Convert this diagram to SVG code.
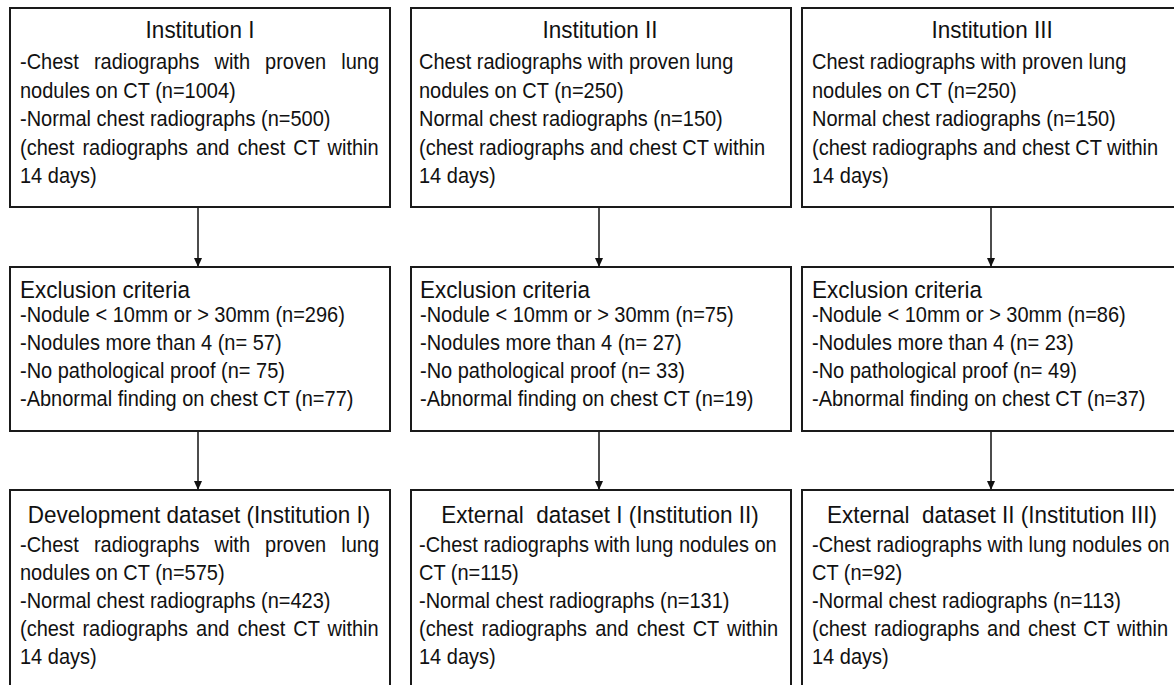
<svg xmlns="http://www.w3.org/2000/svg" width="1174" height="685" viewBox="0 0 1174 685">
<defs>
<marker id="ah" markerUnits="userSpaceOnUse" markerWidth="10" markerHeight="10" refX="9" refY="4" orient="auto">
<path d="M0,0 L9,4 L0,8 Z" fill="#111"/>
</marker>
<style>
.box{fill:#fff;stroke:#1a1a1a;stroke-width:2}
.t{font-family:"Liberation Sans",Arial,sans-serif;font-size:22.5px;fill:#111;text-anchor:middle}
.h{font-family:"Liberation Sans",Arial,sans-serif;font-size:22.5px;fill:#111}
.b{font-family:"Liberation Sans",Arial,sans-serif;font-size:20px;fill:#111}
.c{stroke:#111;stroke-width:1.5;fill:none;marker-end:url(#ah)}
</style>
</defs>
<rect width="1174" height="685" fill="#fff"/>
<g id="connectors">
<line class="c" x1="198" y1="207" x2="198" y2="267"/>
<line class="c" x1="599" y1="207" x2="599" y2="267"/>
<line class="c" x1="991" y1="207" x2="991" y2="267"/>
<line class="c" x1="198" y1="431" x2="198" y2="490"/>
<line class="c" x1="599" y1="431" x2="599" y2="490"/>
<line class="c" x1="991" y1="431" x2="991" y2="490"/>
</g>
<g id="inst1">
<rect class="box" x="10" y="8" width="380" height="199"/>
<text class="t" transform="translate(200,38) scale(1,1.08)">Institution I</text>
<text class="b" transform="translate(20,69) scale(1,1.08)" word-spacing="9.5">-Chest radiographs with proven lung</text>
<text class="b" transform="translate(20,98) scale(1,1.08)">nodules on CT (n=1004)</text>
<text class="b" transform="translate(20,126) scale(1,1.08)">-Normal chest radiographs (n=500)</text>
<text class="b" transform="translate(20,155) scale(1,1.08)" word-spacing="2.5">(chest radiographs and chest CT within</text>
<text class="b" transform="translate(20,183) scale(1,1.08)">14 days)</text>
</g>
<g id="inst2">
<rect class="box" x="411" y="8" width="380" height="199"/>
<text class="t" transform="translate(600,38) scale(1,1.08)">Institution II</text>
<text class="b" transform="translate(419,69) scale(1,1.08)">Chest radiographs with proven lung</text>
<text class="b" transform="translate(419,98) scale(1,1.08)">nodules on CT (n=250)</text>
<text class="b" transform="translate(419,126) scale(1,1.08)">Normal chest radiographs (n=150)</text>
<text class="b" transform="translate(419,155) scale(1,1.08)">(chest radiographs and chest CT within</text>
<text class="b" transform="translate(419,183) scale(1,1.08)">14 days)</text>
</g>
<g id="inst3">
<rect class="box" x="802" y="8" width="380" height="199"/>
<text class="t" transform="translate(992,38) scale(1,1.08)">Institution III</text>
<text class="b" transform="translate(812,69) scale(1,1.08)">Chest radiographs with proven lung</text>
<text class="b" transform="translate(812,98) scale(1,1.08)">nodules on CT (n=250)</text>
<text class="b" transform="translate(812,126) scale(1,1.08)">Normal chest radiographs (n=150)</text>
<text class="b" transform="translate(812,155) scale(1,1.08)">(chest radiographs and chest CT within</text>
<text class="b" transform="translate(812,183) scale(1,1.08)">14 days)</text>
</g>
<g id="excl1">
<rect class="box" x="10" y="267" width="380" height="164"/>
<text class="h" transform="translate(20,298) scale(1,1.08)">Exclusion criteria</text>
<text class="b" transform="translate(20,322) scale(1,1.08)">-Nodule &lt; 10mm or &gt; 30mm (n=296)</text>
<text class="b" transform="translate(20,350) scale(1,1.08)">-Nodules more than 4 (n= 57)</text>
<text class="b" transform="translate(20,378) scale(1,1.08)">-No pathological proof (n= 75)</text>
<text class="b" transform="translate(20,406) scale(1,1.08)">-Abnormal finding on chest CT (n=77)</text>
</g>
<g id="excl2">
<rect class="box" x="411" y="267" width="380" height="164"/>
<text class="h" transform="translate(420,298) scale(1,1.08)">Exclusion criteria</text>
<text class="b" transform="translate(420,322) scale(1,1.08)">-Nodule &lt; 10mm or &gt; 30mm (n=75)</text>
<text class="b" transform="translate(420,350) scale(1,1.08)">-Nodules more than 4 (n= 27)</text>
<text class="b" transform="translate(420,378) scale(1,1.08)">-No pathological proof (n= 33)</text>
<text class="b" transform="translate(420,406) scale(1,1.08)">-Abnormal finding on chest CT (n=19)</text>
</g>
<g id="excl3">
<rect class="box" x="802" y="267" width="380" height="164"/>
<text class="h" transform="translate(812,298) scale(1,1.08)">Exclusion criteria</text>
<text class="b" transform="translate(812,322) scale(1,1.08)">-Nodule &lt; 10mm or &gt; 30mm (n=86)</text>
<text class="b" transform="translate(812,350) scale(1,1.08)">-Nodules more than 4 (n= 23)</text>
<text class="b" transform="translate(812,378) scale(1,1.08)">-No pathological proof (n= 49)</text>
<text class="b" transform="translate(812,406) scale(1,1.08)">-Abnormal finding on chest CT (n=37)</text>
</g>
<g id="dev">
<rect class="box" x="10" y="490" width="380" height="210"/>
<text class="t" transform="translate(199,523) scale(1,1.08)">Development dataset (Institution I)</text>
<text class="b" transform="translate(20,552) scale(1,1.08)" word-spacing="9.5">-Chest radiographs with proven lung</text>
<text class="b" transform="translate(20,580) scale(1,1.08)">nodules on CT (n=575)</text>
<text class="b" transform="translate(20,608) scale(1,1.08)">-Normal chest radiographs (n=423)</text>
<text class="b" transform="translate(20,636) scale(1,1.08)" word-spacing="2.5">(chest radiographs and chest CT within</text>
<text class="b" transform="translate(20,664) scale(1,1.08)">14 days)</text>
</g>
<g id="ext1">
<rect class="box" x="411" y="490" width="380" height="210"/>
<text class="t" transform="translate(600,523) scale(1,1.08)" xml:space="preserve">External  dataset I (Institution II)</text>
<text class="b" transform="translate(419,552) scale(1,1.08)">-Chest radiographs with lung nodules on</text>
<text class="b" transform="translate(419,580) scale(1,1.08)">CT (n=115)</text>
<text class="b" transform="translate(419,608) scale(1,1.08)">-Normal chest radiographs (n=131)</text>
<text class="b" transform="translate(419,636) scale(1,1.08)" word-spacing="2.6">(chest radiographs and chest CT within</text>
<text class="b" transform="translate(419,664) scale(1,1.08)">14 days)</text>
</g>
<g id="ext2">
<rect class="box" x="802" y="490" width="380" height="210"/>
<text class="t" transform="translate(992,523) scale(1,1.08)" xml:space="preserve">External  dataset II (Institution III)</text>
<text class="b" transform="translate(812,552) scale(1,1.08)">-Chest radiographs with lung nodules on</text>
<text class="b" transform="translate(812,580) scale(1,1.08)">CT (n=92)</text>
<text class="b" transform="translate(812,608) scale(1,1.08)">-Normal chest radiographs (n=113)</text>
<text class="b" transform="translate(812,636) scale(1,1.08)" word-spacing="2">(chest radiographs and chest CT within</text>
<text class="b" transform="translate(812,664) scale(1,1.08)">14 days)</text>
</g>
</svg>
